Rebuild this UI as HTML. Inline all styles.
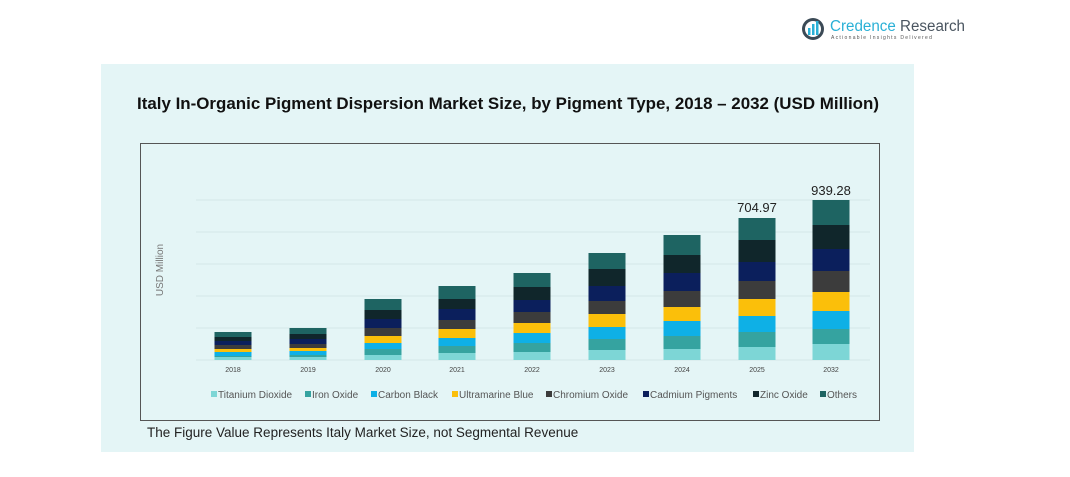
<!DOCTYPE html>
<html><head><meta charset="utf-8"><style>
html,body{margin:0;padding:0;background:#fff;}
body{width:1070px;height:472px;overflow:hidden;font-family:"Liberation Sans",sans-serif;}
</style></head><body>
<svg width="1070" height="472" xmlns="http://www.w3.org/2000/svg" font-family="Liberation Sans, sans-serif">
<rect x="0" y="0" width="1070" height="472" fill="#fff"/>
<g>
<circle cx="813" cy="29" r="11" fill="#3b4a56"/>
<circle cx="813" cy="29" r="8" fill="#fff"/>
<rect x="808" y="28" width="2.5" height="7" fill="#2ab0d6"/>
<rect x="812" y="24" width="2.5" height="11" fill="#2ab0d6"/>
<rect x="816" y="21" width="2.5" height="14" fill="#2ab0d6"/>
<text x="830" y="31" font-size="15.5" fill="#2ab0d6" textLength="135" lengthAdjust="spacingAndGlyphs">Credence <tspan fill="#4a5560">Research</tspan></text>
<text x="831" y="39" font-size="5" fill="#555" letter-spacing="1.3">Actionable Insights Delivered</text>
</g>
<rect x="101" y="64" width="813" height="388" fill="#e4f5f6"/>
<text x="508" y="109" font-size="16.5" font-weight="bold" text-anchor="middle" fill="#111" textLength="742" lengthAdjust="spacingAndGlyphs">Italy In-Organic Pigment Dispersion Market Size, by Pigment Type, 2018 – 2032 (USD Million)</text>
<rect x="140.5" y="143.5" width="739" height="277" fill="none" stroke="#555" stroke-width="1"/>
<g stroke="#d4e6e8" stroke-width="1">
<line x1="196" y1="200" x2="870" y2="200"/><line x1="196" y1="232" x2="870" y2="232"/>
<line x1="196" y1="264" x2="870" y2="264"/><line x1="196" y1="296" x2="870" y2="296"/>
<line x1="196" y1="328" x2="870" y2="328"/><line x1="196" y1="360" x2="870" y2="360"/>
</g>
<text transform="translate(163,270) rotate(-90)" font-size="10" fill="#777" text-anchor="middle">USD Million</text>
<g font-size="7" fill="#444" text-anchor="middle">
<text x="233" y="372">2018</text><text x="308" y="372">2019</text><text x="383" y="372">2020</text>
<text x="457" y="372">2021</text><text x="532" y="372">2022</text><text x="607" y="372">2023</text>
<text x="682" y="372">2024</text><text x="757" y="372">2025</text><text x="831" y="372">2032</text>
</g>
<text x="757" y="212" font-size="13" text-anchor="middle" fill="#222">704.97</text>
<text x="831" y="195" font-size="13" text-anchor="middle" fill="#222">939.28</text>
<g font-size="10" fill="#555">
<rect x="211" y="391" width="6" height="6" fill="#7dd6d6"/><text x="218" y="398">Titanium Dioxide</text>
<rect x="305" y="391" width="6" height="6" fill="#35a3a0"/><text x="312" y="398">Iron Oxide</text>
<rect x="371" y="391" width="6" height="6" fill="#0eb0e6"/><text x="378" y="398">Carbon Black</text>
<rect x="452" y="391" width="6" height="6" fill="#fbbf0a"/><text x="459" y="398">Ultramarine Blue</text>
<rect x="546" y="391" width="6" height="6" fill="#3c3c3c"/><text x="553" y="398">Chromium Oxide</text>
<rect x="643" y="391" width="6" height="6" fill="#0b1f5c"/><text x="650" y="398">Cadmium Pigments</text>
<rect x="753" y="391" width="6" height="6" fill="#10262b"/><text x="760" y="398">Zinc Oxide</text>
<rect x="820" y="391" width="6" height="6" fill="#1e6462"/><text x="827" y="398">Others</text>
</g>
<text x="147" y="437" font-size="13.5" fill="#222">The Figure Value Represents Italy Market Size, not Segmental Revenue</text>
<g>
<rect x="214.5" y="357" width="37" height="3" fill="#7dd6d6"/><rect x="214.5" y="356" width="37" height="1" fill="#35a3a0"/><rect x="214.5" y="352" width="37" height="4" fill="#0eb0e6"/><rect x="214.5" y="349" width="37" height="3" fill="#fbbf0a"/><rect x="214.5" y="345" width="37" height="4" fill="#3c3c3c"/><rect x="214.5" y="341" width="37" height="4" fill="#0b1f5c"/><rect x="214.5" y="337" width="37" height="4" fill="#10262b"/><rect x="214.5" y="332" width="37" height="5" fill="#1e6462"/>
<rect x="289.5" y="357" width="37" height="3" fill="#7dd6d6"/><rect x="289.5" y="355" width="37" height="2" fill="#35a3a0"/><rect x="289.5" y="351" width="37" height="4" fill="#0eb0e6"/><rect x="289.5" y="348" width="37" height="3" fill="#fbbf0a"/><rect x="289.5" y="344" width="37" height="4" fill="#3c3c3c"/><rect x="289.5" y="339" width="37" height="5" fill="#0b1f5c"/><rect x="289.5" y="334" width="37" height="5" fill="#10262b"/><rect x="289.5" y="328" width="37" height="6" fill="#1e6462"/>
<rect x="364.5" y="355" width="37" height="5" fill="#7dd6d6"/><rect x="364.5" y="349" width="37" height="6" fill="#35a3a0"/><rect x="364.5" y="343" width="37" height="6" fill="#0eb0e6"/><rect x="364.5" y="336" width="37" height="7" fill="#fbbf0a"/><rect x="364.5" y="328" width="37" height="8" fill="#3c3c3c"/><rect x="364.5" y="319" width="37" height="9" fill="#0b1f5c"/><rect x="364.5" y="310" width="37" height="9" fill="#10262b"/><rect x="364.5" y="299" width="37" height="11" fill="#1e6462"/>
<rect x="438.5" y="353" width="37" height="7" fill="#7dd6d6"/><rect x="438.5" y="346" width="37" height="7" fill="#35a3a0"/><rect x="438.5" y="338" width="37" height="8" fill="#0eb0e6"/><rect x="438.5" y="329" width="37" height="9" fill="#fbbf0a"/><rect x="438.5" y="320" width="37" height="9" fill="#3c3c3c"/><rect x="438.5" y="309" width="37" height="11" fill="#0b1f5c"/><rect x="438.5" y="299" width="37" height="10" fill="#10262b"/><rect x="438.5" y="286" width="37" height="13" fill="#1e6462"/>
<rect x="513.5" y="352" width="37" height="8" fill="#7dd6d6"/><rect x="513.5" y="343" width="37" height="9" fill="#35a3a0"/><rect x="513.5" y="333" width="37" height="10" fill="#0eb0e6"/><rect x="513.5" y="323" width="37" height="10" fill="#fbbf0a"/><rect x="513.5" y="312" width="37" height="11" fill="#3c3c3c"/><rect x="513.5" y="300" width="37" height="12" fill="#0b1f5c"/><rect x="513.5" y="287" width="37" height="13" fill="#10262b"/><rect x="513.5" y="273" width="37" height="14" fill="#1e6462"/>
<rect x="588.5" y="350" width="37" height="10" fill="#7dd6d6"/><rect x="588.5" y="339" width="37" height="11" fill="#35a3a0"/><rect x="588.5" y="327" width="37" height="12" fill="#0eb0e6"/><rect x="588.5" y="314" width="37" height="13" fill="#fbbf0a"/><rect x="588.5" y="301" width="37" height="13" fill="#3c3c3c"/><rect x="588.5" y="286" width="37" height="15" fill="#0b1f5c"/><rect x="588.5" y="269" width="37" height="17" fill="#10262b"/><rect x="588.5" y="253" width="37" height="16" fill="#1e6462"/>
<rect x="663.5" y="349" width="37" height="11" fill="#7dd6d6"/><rect x="663.5" y="336" width="37" height="13" fill="#35a3a0"/><rect x="663.5" y="321" width="37" height="15" fill="#0eb0e6"/><rect x="663.5" y="307" width="37" height="14" fill="#fbbf0a"/><rect x="663.5" y="291" width="37" height="16" fill="#3c3c3c"/><rect x="663.5" y="273" width="37" height="18" fill="#0b1f5c"/><rect x="663.5" y="255" width="37" height="18" fill="#10262b"/><rect x="663.5" y="235" width="37" height="20" fill="#1e6462"/>
<rect x="738.5" y="347" width="37" height="13" fill="#7dd6d6"/><rect x="738.5" y="332" width="37" height="15" fill="#35a3a0"/><rect x="738.5" y="316" width="37" height="16" fill="#0eb0e6"/><rect x="738.5" y="299" width="37" height="17" fill="#fbbf0a"/><rect x="738.5" y="281" width="37" height="18" fill="#3c3c3c"/><rect x="738.5" y="262" width="37" height="19" fill="#0b1f5c"/><rect x="738.5" y="240" width="37" height="22" fill="#10262b"/><rect x="738.5" y="218" width="37" height="22" fill="#1e6462"/>
<rect x="812.5" y="344" width="37" height="16" fill="#7dd6d6"/><rect x="812.5" y="329" width="37" height="15" fill="#35a3a0"/><rect x="812.5" y="311" width="37" height="18" fill="#0eb0e6"/><rect x="812.5" y="292" width="37" height="19" fill="#fbbf0a"/><rect x="812.5" y="271" width="37" height="21" fill="#3c3c3c"/><rect x="812.5" y="249" width="37" height="22" fill="#0b1f5c"/><rect x="812.5" y="225" width="37" height="24" fill="#10262b"/><rect x="812.5" y="200" width="37" height="25" fill="#1e6462"/>
</g>
</svg>
</body></html>
